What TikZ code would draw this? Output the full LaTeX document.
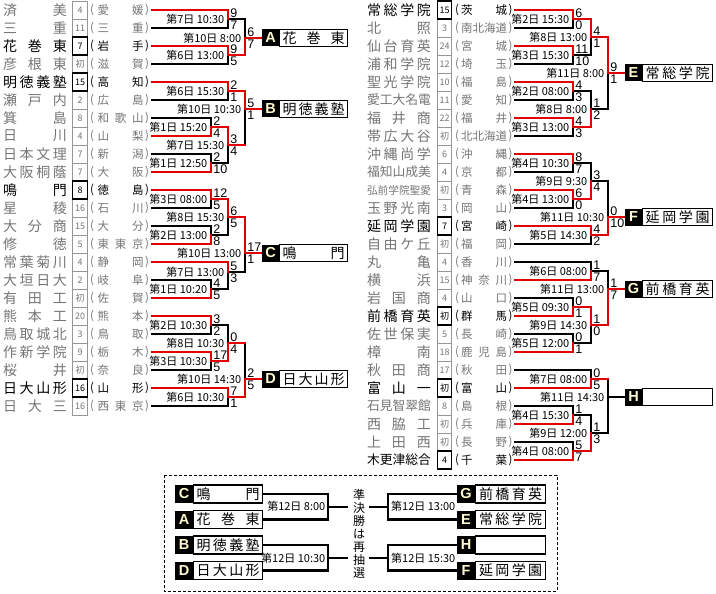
\documentclass[tikz,border=0pt]{standalone}
\usepackage{fontspec}
\setmainfont{Noto Sans CJK JP}
\newfontfamily\lat{Liberation Sans}
\usepackage{graphicx}
\definecolor{tred}{RGB}{224,0,0}
\definecolor{tgray}{RGB}{118,118,118}
\definecolor{cgray}{RGB}{150,150,150}
\definecolor{lcol}{RGB}{255,250,205}
\makeatletter
\def\sp@A#1{\ifx#1\relax\else#1\expandafter\sp@B\fi}
\def\sp@B#1{\ifx#1\relax\else\hfill#1\expandafter\sp@B\fi}
\newsavebox\spbox
\newcommand\spread[2]{\sbox\spbox{#2}\ifdim\wd\spbox>#1\relax\resizebox{#1}{!}{\usebox\spbox}\else\makebox[#1][s]{\sp@A#2\relax}\fi}
\makeatother
\newcount\gmc
\tikzset{
 bl/.style={line width=2.9pt, line cap=rect, black},
 rd/.style={line width=2.9pt, line cap=rect, tred},
 bk2/.style={line width=2.1pt, line cap=rect, black},
 nm/.style={inner sep=0, font=\fontsize{14}{14}\selectfont},
 pf/.style={inner sep=0, font=\fontsize{11.5}{11.5}\selectfont},
 numf/.style={inner sep=0, font=\fontsize{9}{9}\selectfont},
 wn/.style={text=black}, ls/.style={text=tgray},
 cellg/.style={draw=cgray, line width=0.8pt},
 cellw/.style={draw=black, line width=1.3pt},
 datel/.style={inner sep=0, anchor=east, font=\fontsize{11}{11}\selectfont},
 scr/.style={inner sep=0, anchor=west, font=\lat\fontsize{12.5}{12.5}\selectfont},
 lbox/.style={fill=black, minimum width=17pt, minimum height=17pt, inner sep=0, text=lcol, font=\lat\bfseries\fontsize{14.5}{14.5}\selectfont},
 nbox/.style={draw=black, fill=white, line width=1.2pt, minimum width=68pt, minimum height=17pt, inner sep=0, anchor=west, font=\fontsize{14}{14}\selectfont},
}
\newcommand\setleft{\def\side{L}\def\nX{35}\def\cX{80}\def\lpX{92}\def\pX{120.5}\def\rpX{147}}
\newcommand\setright{\def\side{R}\def\nX{399}\def\cX{444.5}\def\lpX{457}\def\pX{484}\def\rpX{510.5}}
\newcommand\tm[5]{%
 \pgfmathsetmacro\yy{10+18*#1}%
 \draw[cellg] (\cX-7.3,\yy-9) rectangle (\cX+7.3,\yy+9);
 \node[nm,#5] (\side n#1) at (\nX,\yy) {\spread{64pt}{#2}};
 \node[numf,#5] (\side c#1) at (\cX,\yy) {#3};
 \node[pf,#5] (\side l#1) at (\lpX,\yy) {(};
 \node[pf,#5] (\side p#1) at (\pX,\yy) {\spread{46pt}{#4}};
 \node[pf,#5] (\side r#1) at (\rpX,\yy) {)};
}
\newcommand\wcell[1]{\pgfmathsetmacro\yy{10+18*#1}\draw[cellw] (\cX-7.3,\yy-9) rectangle (\cX+7.3,\yy+9);}
\newcommand\hb[3]{\draw[bl] (#1,#3) -- (#2,#3);}
\newcommand\vb[3]{\draw[bl] (#1,#2) -- (#1,#3);}
\newcommand\hr[3]{\draw[rd] (#1,#3) -- (#2,#3);}
\newcommand\vr[3]{\draw[rd] (#1,#2) -- (#1,#3);}
\newcommand\gm[5]{\global\advance\gmc by 1
 \node[datel] (gd\the\gmc) at (#1-3.5,#2) {#3};
 \node[scr] (gt\the\gmc) at (#1+2.2,#2-5.8) {#4};
 \node[scr] (gb\the\gmc) at (#1+2.2,#2+6) {#5};}
\begin{document}
\begin{tikzpicture}[x=1pt,y=-1pt]
\useasboundingbox (0,0) rectangle (716,594);
\fill[white] (0,0) rectangle (716,594);
% ---------------- left teams
\setleft
\tm{0}{済美}{4}{愛媛}{ls}
\tm{1}{三重}{11}{三重}{ls}
\tm{2}{花巻東}{7}{岩手}{wn}
\tm{3}{彦根東}{初}{滋賀}{ls}
\tm{4}{明徳義塾}{15}{高知}{wn}
\tm{5}{瀬戸内}{2}{広島}{ls}
\tm{6}{箕島}{8}{和歌山}{ls}
\tm{7}{日川}{4}{山梨}{ls}
\tm{8}{日本文理}{7}{新潟}{ls}
\tm{9}{大阪桐蔭}{7}{大阪}{ls}
\tm{10}{鳴門}{8}{徳島}{wn}
\tm{11}{星稜}{16}{石川}{ls}
\tm{12}{大分商}{15}{大分}{ls}
\tm{13}{修徳}{5}{東東京}{ls}
\tm{14}{常葉菊川}{4}{静岡}{ls}
\tm{15}{大垣日大}{2}{岐阜}{ls}
\tm{16}{有田工}{初}{佐賀}{ls}
\tm{17}{熊本工}{20}{熊本}{ls}
\tm{18}{鳥取城北}{3}{鳥取}{ls}
\tm{19}{作新学院}{9}{栃木}{ls}
\tm{20}{桜井}{初}{奈良}{ls}
\tm{21}{日大山形}{16}{山形}{wn}
\tm{22}{日大三}{16}{西東京}{ls}
\wcell{2}\wcell{4}\wcell{10}\wcell{21}
% ---------------- right teams
\setright
\tm{0}{常総学院}{15}{茨城}{wn}
\tm{1}{北照}{3}{南北海道}{ls}
\tm{2}{仙台育英}{24}{宮城}{ls}
\tm{3}{浦和学院}{12}{埼玉}{ls}
\tm{4}{聖光学院}{10}{福島}{ls}
\tm{5}{愛工大名電}{11}{愛知}{ls}
\tm{6}{福井商}{22}{福井}{ls}
\tm{7}{帯広大谷}{初}{北北海道}{ls}
\tm{8}{沖縄尚学}{6}{沖縄}{ls}
\tm{9}{福知山成美}{4}{京都}{ls}
\tm{10}{弘前学院聖愛}{初}{青森}{ls}
\tm{11}{玉野光南}{3}{岡山}{ls}
\tm{12}{延岡学園}{7}{宮崎}{wn}
\tm{13}{自由ケ丘}{初}{福岡}{ls}
\tm{14}{丸亀}{4}{香川}{ls}
\tm{15}{横浜}{15}{神奈川}{ls}
\tm{16}{岩国商}{4}{山口}{ls}
\tm{17}{前橋育英}{初}{群馬}{wn}
\tm{18}{佐世保実}{5}{長崎}{ls}
\tm{19}{樟南}{18}{鹿児島}{ls}
\tm{20}{秋田商}{17}{秋田}{ls}
\tm{21}{富山一}{初}{富山}{wn}
\tm{22}{石見智翠館}{8}{島根}{ls}
\tm{23}{西脇工}{初}{兵庫}{ls}
\tm{24}{上田西}{初}{長野}{ls}
\tm{25}{木更津総合}{4}{千葉}{wn}
\wcell{0}\wcell{12}\wcell{17}\wcell{21}\wcell{25}
% ---------------- left black lines
\hb{152}{228}{28}\vb{228}{19}{28}\hb{228}{245}{19}
\hb{152}{228}{64}\vb{228}{55}{64}\vb{245}{19}{38}
\hb{152}{228}{100}\vb{228}{91}{100}
\hb{152}{211}{118}\vb{211}{118}{127}
\hb{152}{211}{154}\vb{211}{154}{163}\hb{211}{228}{163}\vb{228}{145}{163}
\vb{245}{109}{145}
\hb{152}{211}{208}\vb{211}{199}{208}
\hb{152}{211}{226}\vb{211}{226}{235}\hb{211}{228}{235}\vb{228}{217}{235}
\hb{152}{211}{280}\vb{211}{280}{289}\hb{211}{228}{289}\vb{228}{272}{289}
\hb{228}{245}{272}\vb{245}{253}{272}
\hb{152}{211}{334}\vb{211}{325}{334}\hb{211}{228}{325}\vb{228}{325}{343}
\hb{152}{211}{370}\vb{211}{361}{370}
\hb{152}{228}{406}\vb{228}{397}{406}\vb{245}{343}{379}
% ---------------- right black lines
\hb{515}{573}{28}\vb{573}{19}{28}
\hb{515}{573}{64}\vb{573}{55}{64}\hb{573}{591}{55}\vb{591}{37}{55}
\hb{515}{573}{100}\vb{573}{91}{100}\hb{573}{591}{91}\vb{591}{91}{109}
\hb{515}{573}{136}\vb{573}{127}{136}
\hb{591}{608}{109}\vb{608}{73}{109}
\hb{515}{573}{172}\vb{573}{163}{172}\hb{573}{591}{163}\vb{591}{163}{181}
\hb{515}{573}{208}\vb{573}{199}{208}
\hb{591}{608}{181}\vb{608}{181}{217}
\hb{515}{591}{244}\vb{591}{235}{244}
\hb{515}{591}{262}\vb{591}{262}{271}\hb{591}{608}{271}\vb{608}{271}{289}
\hb{515}{573}{298}\vb{573}{298}{307}
\hb{515}{573}{334}\vb{573}{334}{343}\hb{573}{591}{343}\vb{591}{325}{343}
\hb{515}{591}{370}\vb{591}{370}{379}
\hb{515}{573}{406}\vb{573}{406}{415}\hb{573}{591}{415}\vb{591}{415}{433}
\hb{515}{573}{442}\vb{573}{442}{451}
\hb{591}{608}{433}\vb{608}{379}{433}\hb{608}{625}{397}
% ---------------- left red lines
\hr{152}{228}{10}\vr{228}{10}{19}
\hr{152}{228}{46}\vr{228}{46}{55}\hr{228}{245}{55}\vr{245}{38}{55}\hr{245}{262}{38}
\hr{152}{228}{82}\vr{228}{82}{91}\hr{228}{245}{91}\vr{245}{91}{109}\hr{245}{262}{109}
\hr{152}{211}{136}\vr{211}{127}{136}\hr{211}{228}{127}\vr{228}{127}{145}\hr{228}{245}{145}
\hr{152}{211}{172}\vr{211}{163}{172}
\hr{152}{211}{190}\vr{211}{190}{199}\hr{211}{228}{199}\vr{228}{199}{217}\hr{228}{245}{217}\vr{245}{217}{253}\hr{245}{262}{253}
\hr{152}{211}{244}\vr{211}{235}{244}
\hr{152}{228}{262}\vr{228}{262}{272}
\hr{152}{211}{298}\vr{211}{289}{298}
\hr{152}{211}{316}\vr{211}{316}{325}
\hr{152}{211}{352}\vr{211}{352}{361}\hr{211}{228}{361}\vr{228}{343}{361}\hr{228}{245}{343}
\hr{152}{228}{388}\vr{228}{388}{397}\hr{228}{245}{397}\vr{245}{379}{397}\hr{245}{262}{379}
% ---------------- right red lines
\hr{515}{573}{10}\vr{573}{10}{19}\hr{573}{591}{19}\vr{591}{19}{37}\hr{591}{608}{37}\vr{608}{37}{73}\hr{608}{625}{73}
\hr{515}{573}{46}\vr{573}{46}{55}
\hr{515}{573}{82}\vr{573}{82}{91}
\hr{515}{573}{118}\vr{573}{118}{127}\hr{573}{591}{127}\vr{591}{109}{127}
\hr{515}{573}{154}\vr{573}{154}{163}
\hr{515}{573}{190}\vr{573}{190}{199}\hr{573}{591}{199}\vr{591}{181}{199}
\hr{515}{591}{226}\vr{591}{226}{235}\hr{591}{608}{235}\vr{608}{217}{235}\hr{608}{625}{217}
\hr{515}{591}{280}\vr{591}{271}{280}
\hr{515}{573}{316}\vr{573}{307}{316}\hr{573}{591}{307}\vr{591}{307}{325}\hr{591}{608}{325}\vr{608}{289}{325}\hr{608}{625}{289}
\hr{515}{573}{352}\vr{573}{343}{352}
\hr{515}{591}{388}\vr{591}{379}{388}\hr{591}{608}{379}
\hr{515}{573}{424}\vr{573}{415}{424}
\hr{515}{573}{460}\vr{573}{451}{460}\hr{573}{591}{451}\vr{591}{433}{451}
% ---------------- left games
\gm{228}{19}{第7日 10:30}{9}{7}
\gm{228}{55}{第6日 13:00}{9}{5}
\gm{245}{38}{第10日 8:00}{6}{7}
\gm{228}{91}{第6日 15:30}{2}{1}
\gm{211}{127}{第1日 15:20}{2}{4}
\gm{211}{163}{第1日 12:50}{2}{10}
\gm{228}{145}{第7日 15:30}{3}{4}
\gm{245}{109}{第10日 10:30}{5}{1}
\gm{211}{199}{第3日 08:00}{12}{5}
\gm{211}{235}{第2日 13:00}{2}{8}
\gm{228}{217}{第8日 15:30}{6}{5}
\gm{228}{272}{第7日 13:00}{5}{3}
\gm{211}{289}{第1日 10:20}{4}{5}
\gm{245}{253}{第10日 13:00}{17}{1}
\gm{211}{325}{第2日 10:30}{3}{2}
\gm{211}{361}{第3日 10:30}{17}{5}
\gm{228}{343}{第8日 10:30}{0}{4}
\gm{228}{397}{第6日 10:30}{7}{1}
\gm{245}{379}{第10日 14:30}{2}{5}
% ---------------- right games
\gm{573}{19}{第2日 15:30}{6}{0}
\gm{573}{55}{第3日 15:30}{11}{10}
\gm{591}{37}{第8日 13:00}{4}{1}
\gm{573}{91}{第2日 08:00}{4}{3}
\gm{573}{127}{第3日 13:00}{4}{3}
\gm{591}{109}{第8日 8:00}{1}{2}
\gm{608}{73}{第11日 8:00}{9}{1}
\gm{573}{163}{第4日 10:30}{8}{7}
\gm{573}{199}{第4日 13:00}{6}{0}
\gm{591}{181}{第9日 9:30}{3}{4}
\gm{591}{235}{第5日 14:30}{4}{2}
\gm{608}{217}{第11日 10:30}{0}{10}
\gm{591}{271}{第6日 08:00}{1}{7}
\gm{573}{307}{第5日 09:30}{0}{1}
\gm{573}{343}{第5日 12:00}{0}{1}
\gm{591}{325}{第9日 14:30}{1}{0}
\gm{608}{289}{第11日 13:00}{1}{7}
\gm{591}{379}{第7日 08:00}{0}{5}
\gm{573}{415}{第4日 15:30}{1}{4}
\gm{573}{451}{第4日 08:00}{5}{7}
\gm{591}{433}{第9日 12:00}{1}{3}
\gm{608}{397}{第11日 14:30}{}{}
% ---------------- winner boxes
\node[lbox] (A) at (270.5,38) {A};
\node[nbox] (An) at (279,38) {\spread{62pt}{花巻東}};
\node[lbox] (B) at (270.5,109) {B};
\node[nbox] (Bn) at (279,109) {\spread{62pt}{明徳義塾}};
\node[lbox] (C) at (270.5,253) {C};
\node[nbox] (Cn) at (279,253) {\spread{62pt}{鳴門}};
\node[lbox] (D) at (270.5,379) {D};
\node[nbox] (Dn) at (279,379) {\spread{62pt}{日大山形}};
\node[lbox] (E) at (633.5,73) {E};
\node[nbox,minimum width=70pt] (En) at (642,73) {\spread{64pt}{常総学院}};
\node[lbox] (F) at (633.5,217) {F};
\node[nbox,minimum width=70pt] (Fn) at (642,217) {\spread{64pt}{延岡学園}};
\node[lbox] (G) at (633.5,289) {G};
\node[nbox,minimum width=70pt] (Gn) at (642,289) {\spread{64pt}{前橋育英}};
\node[lbox] (H) at (633.5,397) {H};
\node[nbox,minimum width=70pt] (Hn) at (642,397) {};
% ---------------- semifinal box
\draw[line width=1pt, dash pattern=on 3pt off 2pt] (164,475) rectangle (557,591);
\coordinate (jl1) at (328,507);
\coordinate (jl2) at (328,558);
\coordinate (jr1) at (388,507);
\coordinate (jr2) at (388,558);
\coordinate (ml1) at (347,507);
\coordinate (ml2) at (347,558);
\coordinate (mr1) at (370,507);
\coordinate (mr2) at (370,558);
\node[lbox,minimum size=18pt] (sC) at (184,494) {C};
\node[nbox,minimum width=69pt,minimum height=18pt] (sCn) at (193,494) {\spread{63pt}{鳴門}};
\node[lbox,minimum size=18pt] (sA) at (184,519.5) {A};
\node[nbox,minimum width=69pt,minimum height=18pt] (sAn) at (193,519.5) {\spread{63pt}{花巻東}};
\node[lbox,minimum size=18pt] (sB) at (184,545) {B};
\node[nbox,minimum width=69pt,minimum height=18pt] (sBn) at (193,545) {\spread{63pt}{明徳義塾}};
\node[lbox,minimum size=18pt] (sD) at (184,570.5) {D};
\node[nbox,minimum width=69pt,minimum height=18pt] (sDn) at (193,570.5) {\spread{63pt}{日大山形}};
\node[lbox,minimum size=18pt] (sG) at (466,494) {G};
\node[nbox,minimum width=70pt,minimum height=18pt] (sGn) at (475,494) {\spread{63pt}{前橋育英}};
\node[lbox,minimum size=18pt] (sE) at (466,519.5) {E};
\node[nbox,minimum width=70pt,minimum height=18pt] (sEn) at (475,519.5) {\spread{63pt}{常総学院}};
\node[lbox,minimum size=18pt] (sH) at (466,545) {H};
\node[nbox,minimum width=70pt,minimum height=18pt] (sHn) at (475,545) {};
\node[lbox,minimum size=18pt] (sF) at (466,570.5) {F};
\node[nbox,minimum width=70pt,minimum height=18pt] (sFn) at (475,570.5) {\spread{63pt}{延岡学園}};
\draw[bk2] (sCn.east) -| (jl1); \draw[bk2] (sAn.east) -| (jl1); \draw[bk2] (jl1) -- (ml1);
\draw[bk2] (sBn.east) -| (jl2); \draw[bk2] (sDn.east) -| (jl2); \draw[bk2] (jl2) -- (ml2);
\draw[bk2] (sG.west) -| (jr1); \draw[bk2] (sE.west) -| (jr1); \draw[bk2] (mr1) -- (jr1);
\draw[bk2] (sH.west) -| (jr2); \draw[bk2] (sF.west) -| (jr2); \draw[bk2] (mr2) -- (jr2);
\node[datel] (s1) at (325.5,506) {第12日 8:00};
\node[datel] (s2) at (325.5,558) {第12日 10:30};
\node[datel,anchor=west] (s3) at (391,506) {第12日 13:00};
\node[datel,anchor=west] (s4) at (391,558) {第12日 15:30};
\node[inner sep=0, align=center, font=\fontsize{12}{13}\selectfont] (mid) at (359,534) {準\\決\\勝\\は\\再\\抽\\選};
\end{tikzpicture}
\end{document}
